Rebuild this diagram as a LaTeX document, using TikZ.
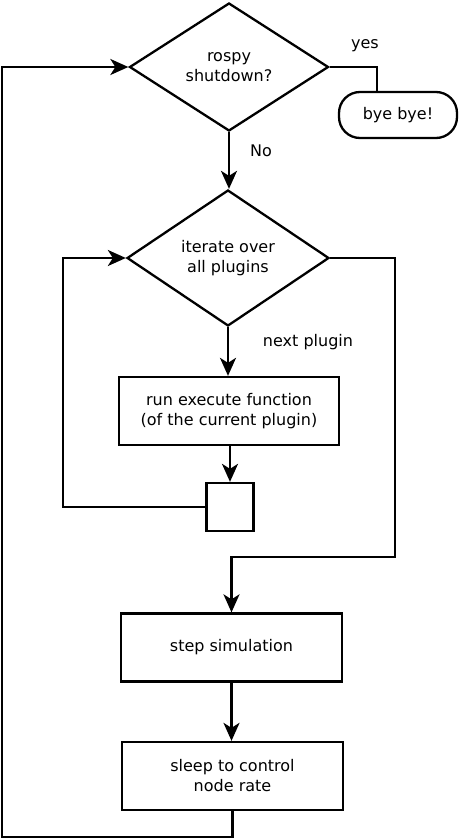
\documentclass[tikz,border=0pt]{standalone}
\usepackage{fontspec}
\setmainfont{DejaVu Sans}
\usepackage{tikz}
\usetikzlibrary{
  arrows.meta,
  positioning,
  shapes.geometric
}

\begin{document}
\begin{tikzpicture}[
  x=1pt, y=-1pt,
  every node/.style={font=\fontsize{16}{20}\selectfont},
  line/.style={line width=2.3pt, line join=miter},
  decision/.style={diamond, draw, line width=2.3pt, inner sep=0pt,
                   align=center, fill=white},
  proc/.style={rectangle, draw, line width=2.3pt, align=center,
               minimum width=220pt, minimum height=68pt, fill=white},
  term/.style={rectangle, rounded corners=21pt, draw, line width=2.3pt,
               minimum width=118pt, minimum height=46pt, fill=white},
  arr/.style={line, -{Stealth[length=18pt, width=16pt, inset=5pt]}},
  label/.style={font=\fontsize{16}{20}\selectfont},
]
\useasboundingbox (0,0) rectangle (459,840);

% -- Main decisions ------------------------------
\node[decision, minimum width=199pt, minimum height=128pt, aspect=1.55]
  (stop) at (229,67) {rospy\\shutdown?};
\node[decision, minimum width=202pt, minimum height=136pt, aspect=1.49]
  (iter) at (228,258) {iterate over\\all plugins};

% -- Terminal ------------------------------------
\node[term] (bye) at (398,115) {bye bye!};

% -- Plugin loop body ----------------------------
\node[proc] (run) at (229,411) {run execute function\\(of the current plugin)};
\node[rectangle, draw, line width=2.3pt, minimum width=47pt,
      minimum height=48pt] (join) at (230,507) {};

% -- Simulation steps ----------------------------
\node[proc, minimum width=221pt] (step)  at (231.5,647.5) {step simulation};
\node[proc, minimum width=221pt] (sleep) at (232.5,776)   {sleep to control\\node rate};

% -- Labels --------------------------------------
\node[label] (yes)  at (365,46)  {yes};
\node[label] (no)   at (261,151) {No};
\node[label] (next) at (308,342) {next plugin};

% -- Bend points ---------------------------------
\coordinate (yesbend) at (377,67);
\coordinate (loopL)   at (63,507);
\coordinate (doneR)   at (395,557);
\coordinate (backL)   at (2,837);

% -- Arrows --------------------------------------
\draw[line] (stop.east) -- (yesbend) -- (yesbend |- bye.north);
\draw[arr] (stop.south) -- (stop.south |- iter.north);
\draw[arr] (iter.south) -- (iter.south |- run.north);
\draw[arr] (join.north |- run.south) -- (join.north);
\draw[arr] (join.west) -- (loopL) |- (iter.west);
\draw[arr] (iter.east) -| (doneR) -| (step.north);
\draw[arr] (step.south) -- (sleep.north -| step.south);
\draw[arr] (sleep.south) |- (backL) |- (stop.west);

\end{tikzpicture}
\end{document}
